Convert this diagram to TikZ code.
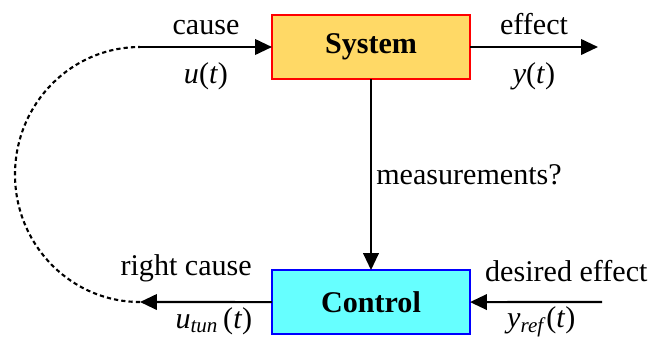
\documentclass[tikz,border=0pt]{standalone}
\usepackage{fontspec}
\setmainfont{Liberation Serif}
\usetikzlibrary{arrows.meta, positioning}
\definecolor{sysFill}{HTML}{FFD966}
\definecolor{sysBdr}{HTML}{FF0000}
\definecolor{ctlFill}{HTML}{66FFFF}
\definecolor{ctlBdr}{HTML}{0000FF}
\newcommand{\lblf}{\fontsize{21.4pt}{25pt}\selectfont}
\tikzset{
  blk/.style={draw, line width=1.4pt, minimum width=4.95cm, minimum height=1.6cm,
    font=\lblf\bfseries, inner sep=2pt, outer sep=0pt},
  sysbox/.style={blk, draw=sysBdr, fill=sysFill},
  ctlbox/.style={blk, draw=ctlBdr, fill=ctlFill},
  A/.style={-{Triangle[length=12pt,width=11pt]}, line width=1.5pt},
  Ad/.style={line width=1.5pt, dash pattern=on 3pt off 2.2pt},
  lbl/.style={font=\lblf, inner sep=3pt},
}

\begin{document}
\begin{tikzpicture}[x=0.025cm, y=-0.025cm]
\useasboundingbox (0,0) rectangle (653,338);

% ── blocks ──────────────────────────────────────────────────────────────────
\node[sysbox] (sys) at (371,47) {System};
\node[ctlbox, below=4.775cm of sys] (ctl) {Control};

% ── free ends of the signals ────────────────────────────────────────────────
\coordinate (uin) at (140,47);
\coordinate (yout) at (598,47);
\coordinate (yref) at (602,302);
\coordinate (uout) at (140,302);

% ── forward path ────────────────────────────────────────────────────────────
\draw[A] (uin) -- (sys.west)
  node[midway, above=5pt, lbl] {cause}
  node[midway, below=7pt, lbl] {\textit{u}(\textit{t})};
\draw[A] (sys.east) -- (yout)
  node[midway, above=5pt, lbl] {effect}
  node[midway, below=7pt, lbl] {\textit{y}(\textit{t})};
\draw[A] (sys.south) -- (ctl.north)
  node[midway, right, lbl] {measurements?};

% ── control path ────────────────────────────────────────────────────────────
\draw[A] (yref) -- (ctl.east)
  node[pos=0.27, above=10.5pt, lbl] {desired effect}
  node[pos=0.46, below=2.5pt, lbl, inner sep=0pt] {\textit{y}\textsubscript{\textit{ref}}(\textit{t})};
\draw[A] (ctl.west) -- (uout)
  node[pos=0.65, above=10.5pt, lbl] {right cause}
  node[pos=0.44, below=3pt, lbl, inner sep=0pt] {\textit{u}\textsubscript{\textit{tun}}\,(\textit{t})};

% dashed loop back to the input
\draw[Ad] (uout) .. controls (71,302) and (15,245) .. (15,174.5)
  .. controls (15,104) and (71,47) .. (uin);

\end{tikzpicture}
\end{document}
